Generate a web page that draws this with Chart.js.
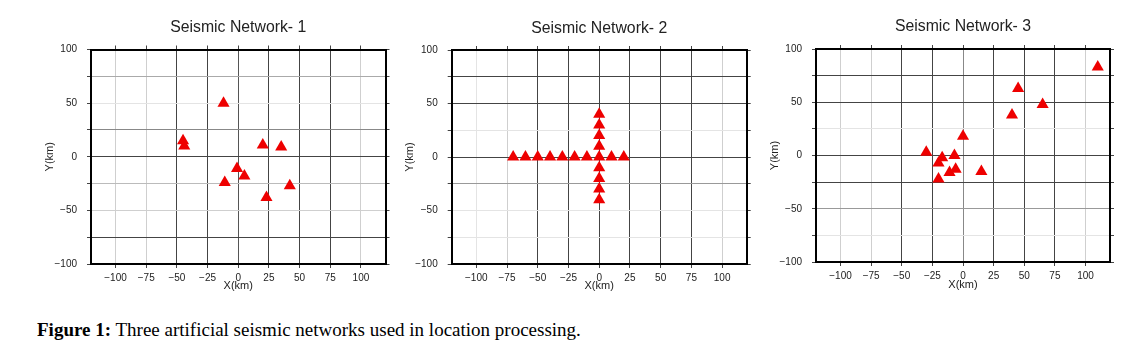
<!DOCTYPE html>
<html><head><meta charset="utf-8">
<script src="https://cdn.jsdelivr.net/npm/chart.js@4/dist/chart.umd.min.js"></script>
<style>
body{margin:0;background:#fff;width:1129px;height:357px;position:relative;overflow:hidden}
canvas{position:absolute;top:0}
#cap{position:absolute;left:37px;top:319px;font-family:"Liberation Serif","Times New Roman",serif;font-size:19px;color:#000;white-space:nowrap}
</style></head><body>
<canvas id="c1" width="380" height="300" style="left:20px;width:380px;height:300px"></canvas>
<canvas id="c2" width="365" height="300" style="left:400px;width:365px;height:300px"></canvas>
<canvas id="c3" width="364" height="300" style="left:765px;width:364px;height:300px"></canvas>
<div id="cap"><b>Figure 1:</b> Three artificial seismic networks used in location processing.</div>
<script>
// ---- data ----
const xTickValues = [-100, -75, -50, -25, 0, 25, 50, 75, 100];
const yTickValues = [-100, -75, -50, -25, 0, 25, 50, 75, 100];
const yLabelValues = [-100, -50, 0, 50, 100];
const panelTitles = ['Seismic Network- 1', 'Seismic Network- 2', 'Seismic Network- 3'];
const xAxisTitle = 'X(km)';
const yAxisTitle = 'Y(km)';

const net1X = [-12, -45, -44, 20, 35, -1, 5, -11, 42, 23];
const net1Y = [50, 15, 10, 11, 9, -11, -18, -24, -27, -38];

const net2X = [-70, -60, -50, -40, -30, -20, -10, 0, 10, 20, 0, 0, 0, 0, 0, 0, 0, 0];
const net2Y = [0, 0, 0, 0, 0, 0, 0, 0, 0, 0, 40, 30, 20, 10, -10, -20, -30, -40];

const net3X = [110, 45, 65, 40, 0, -30, -17, -7, -20, -6, -11, -20, 15];
const net3Y = [83, 63, 48, 38, 18, 3, -2, 0, -7, -13, -16, -22, -15];

// ---- styling / layout ----
const FONT = '"Liberation Sans", Arial, Helvetica, sans-serif';
const D = '#444', L1 = '#cfcfcf', L2 = '#e4e4e4', M = '#999';
const TITLE_SIZE = 15.8, TITLE_LH = TITLE_SIZE * 1.2;
const layouts = [
  { yW: 71, y2W: 14.5, titleC: 28, chartTop: 49.5, chartBottom: 264, xLabelPad: 4, xTitlePadB: 7.4, yTitlePadT: 23.4,
    gx: {'-100': L1, '-75': L1, '-50': D, '-25': D, '0': '#555', '25': D, '50': D, '75': D, '100': L1},
    gy: {'75': '#aaa', '50': L2, '25': '#888', '0': D, '-25': '#bbb', '-50': L1, '-75': D} },
  { yW: 51.7, y2W: 18.3, titleC: 28.3, chartTop: 50, chartBottom: 264, xLabelPad: 4, xTitlePadB: 7.4, yTitlePadT: 3.4,
    gx: {'-100': L2, '-75': L1, '-50': D, '-25': D, '0': D, '25': D, '50': D, '75': D, '100': L1},
    gy: {'75': D, '50': D, '25': L2, '0': D, '-25': M, '-50': L2, '-75': L2} },
  { yW: 51, y2W: 19, titleC: 26.7, chartTop: 49, chartBottom: 262, xLabelPad: 4, xTitlePadB: 8.4, yTitlePadT: 3.4,
    gx: {'-100': L1, '-75': L1, '-50': D, '-25': D, '0': '#888', '25': D, '50': D, '75': D, '100': L1},
    gy: {'75': D, '50': D, '25': L2, '0': D, '-25': D, '-50': M, '-75': L2} }
];

function fmt(v) { return v < 0 ? '\u2212' + Math.abs(v) : String(v); }

function makeChart(id, title, xs, ys, Lo) {
  const H = 300;
  const titleTop = Lo.titleC - TITLE_LH / 2;
  const shade = (map, c) => (c && c.tick && map[String(c.tick.value)]) || 'rgba(0,0,0,0)';
  const border = { display: true, color: '#000', width: 2 };
  const tickFont = { family: FONT, size: 10 };
  const titleFont = { family: FONT, size: 11 };
  return new Chart(document.getElementById(id), {
    type: 'scatter',
    data: { datasets: [{
      data: xs.map((x, i) => ({ x: x, y: ys[i] })),
      pointStyle: 'triangle', pointRadius: 7, pointHoverRadius: 7,
      backgroundColor: '#ee0000', borderColor: '#ee0000', borderWidth: 0
    }] },
    options: {
      responsive: false, animation: false, events: [],
      layout: { padding: 0 },
      plugins: {
        legend: { display: false }, tooltip: { enabled: false },
        title: { display: true, text: title, fullSize: false, color: '#222',
          font: { family: FONT, size: TITLE_SIZE, weight: 'normal' },
          padding: { top: titleTop, bottom: 0 } }
      },
      scales: {
        x: { type: 'linear', position: 'bottom', min: -120, max: 120,
          afterBuildTicks: s => { s.ticks = xTickValues.map(v => ({ value: v })); },
          afterFit: s => { s.height = H - Lo.chartBottom; },
          ticks: { font: tickFont, color: '#222', padding: Lo.xLabelPad, callback: v => fmt(v), maxRotation: 0, autoSkip: false },
          grid: { color: c => shade(Lo.gx, c), tickColor: '#444', tickLength: 4, lineWidth: 1 },
          border: border,
          title: { display: true, text: xAxisTitle, font: titleFont, color: '#222', padding: { top: 0, bottom: Lo.xTitlePadB } } },
        y: { type: 'linear', position: 'left', min: -100, max: 100,
          afterBuildTicks: s => { s.ticks = yTickValues.map(v => ({ value: v })); },
          afterFit: s => { s.width = Lo.yW; },
          ticks: { font: tickFont, color: '#222', padding: 10, autoSkip: false,
            callback: v => yLabelValues.includes(v) ? fmt(v) : '' },
          grid: { color: c => shade(Lo.gy, c), tickColor: '#444', tickLength: 4, lineWidth: 1 },
          border: border,
          title: { display: true, text: yAxisTitle, font: titleFont, color: '#222', padding: { top: Lo.yTitlePadT, bottom: 0 } } },
        x2: { type: 'linear', position: 'top', min: -120, max: 120,
          afterBuildTicks: s => { s.ticks = xTickValues.map(v => ({ value: v })); },
          afterFit: s => { s.height = Lo.chartTop - (titleTop + TITLE_LH); },
          ticks: { display: false },
          grid: { drawOnChartArea: false, tickColor: '#444', tickLength: 4 },
          border: border },
        y2: { type: 'linear', position: 'right', min: -100, max: 100,
          afterBuildTicks: s => { s.ticks = yTickValues.map(v => ({ value: v })); },
          afterFit: s => { s.width = Lo.y2W; },
          ticks: { display: false },
          grid: { drawOnChartArea: false, tickColor: '#444', tickLength: 4 },
          border: border }
      }
    }
  });
}

makeChart('c1', panelTitles[0], net1X, net1Y, layouts[0]);
makeChart('c2', panelTitles[1], net2X, net2Y, layouts[1]);
makeChart('c3', panelTitles[2], net3X, net3Y, layouts[2]);
</script>
</body></html>
